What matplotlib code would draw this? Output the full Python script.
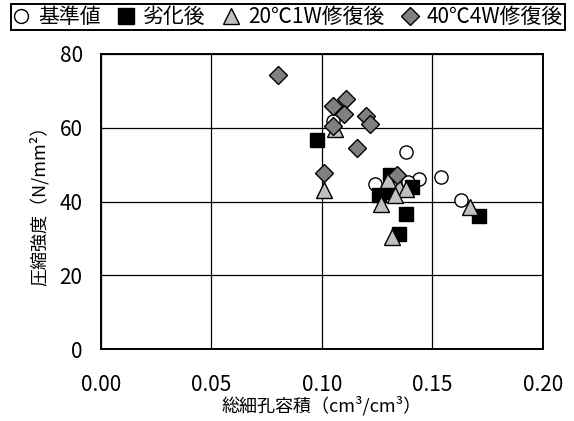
import matplotlib
matplotlib.use("Agg")
import matplotlib.pyplot as plt
from matplotlib.lines import Line2D

plt.rcParams['font.family'] = ['Noto Sans CJK JP', 'DejaVu Sans']

# 総細孔容積 (cm3/cm3) と 圧縮強度 (N/mm2)
base_x = [0.105, 0.138, 0.154, 0.144, 0.124, 0.163, 0.139]
base_y = [61.8, 53.4, 46.6, 46.1, 44.8, 40.3, 45.3]

deg_x = [0.098, 0.131, 0.126, 0.130, 0.141, 0.138, 0.135, 0.171]
deg_y = [56.6, 47.1, 41.7, 42.5, 43.9, 36.7, 31.3, 36.2]

rep20_x = [0.106, 0.101, 0.127, 0.130, 0.135, 0.138, 0.133, 0.132, 0.167]
rep20_y = [59.6, 43.0, 39.4, 45.8, 43.9, 43.5, 41.7, 30.4, 38.4]

rep40_x = [0.080, 0.105, 0.111, 0.110, 0.120, 0.122, 0.105, 0.116, 0.101, 0.134]
rep40_y = [74.4, 65.9, 67.9, 63.8, 63.1, 60.9, 60.4, 54.5, 47.6, 47.1]

labels = ['基準値', '劣化後', '20℃1W修復後', '40℃4W修復後']

fig = plt.figure(figsize=(5.74, 4.21), dpi=100)
ax = fig.add_axes([100.7/574, 1-349/421, 442/574, 295/421])

ms = 9.5
ax.plot(base_x, base_y, 'o', ms=ms, mfc='white', mec='black', mew=1.0, zorder=3)
ax.plot(deg_x, deg_y, 's', ms=ms, mfc='black', mec='black', mew=1.0, zorder=4)
ax.plot(rep20_x, rep20_y, '^', ms=ms+1.5, mfc='#c0c0c0', mec='black', mew=1.0, zorder=5)
ax.plot(rep40_x, rep40_y, 'D', ms=9, mfc='#808080', mec='black', mew=1.0, zorder=6)

ax.set_xlim(0, 0.20)
ax.set_ylim(0, 80)
ax.set_xticks([0.00, 0.05, 0.10, 0.15, 0.20])
ax.set_xticklabels(['0.00', '0.05', '0.10', '0.15', '0.20'])
ax.set_yticks([0, 20, 40, 60, 80])
ax.tick_params(axis='both', length=0, labelsize=15)
ax.tick_params(axis='x', pad=18)
ax.tick_params(axis='y', pad=13)
ax.grid(True, color='black', lw=0.9)
ax.set_axisbelow(True)
for s in ax.spines.values():
    s.set_linewidth(1.4)
    s.set_color('black')

ax.set_xlabel('総細孔容積（cm³/cm³）', fontsize=13, labelpad=0)
ax.set_ylabel('圧縮強度（N/mm²）', fontsize=13, labelpad=8)

handles = [
    Line2D([], [], ls='none', marker='o', ms=10, mfc='white', mec='black', mew=1.0),
    Line2D([], [], ls='none', marker='s', ms=11, mfc='black', mec='black'),
    Line2D([], [], ls='none', marker='^', ms=12, mfc='#c0c0c0', mec='black', mew=1.0),
    Line2D([], [], ls='none', marker='D', ms=9, mfc='#808080', mec='black', mew=1.0),
]
leg = fig.legend(handles, labels, ncol=4, loc='upper left',
                 bbox_to_anchor=(11/574, 1-39/421, 554/574, 35/421), mode='expand',
                 fontsize=15, frameon=True, fancybox=False, framealpha=1,
                 edgecolor='black', handlelength=0.8, handletextpad=0.4,
                 borderpad=0.1, borderaxespad=0, columnspacing=0.4)
leg.get_frame().set_linewidth(1.4)

fig.savefig('out.png', dpi=100)
